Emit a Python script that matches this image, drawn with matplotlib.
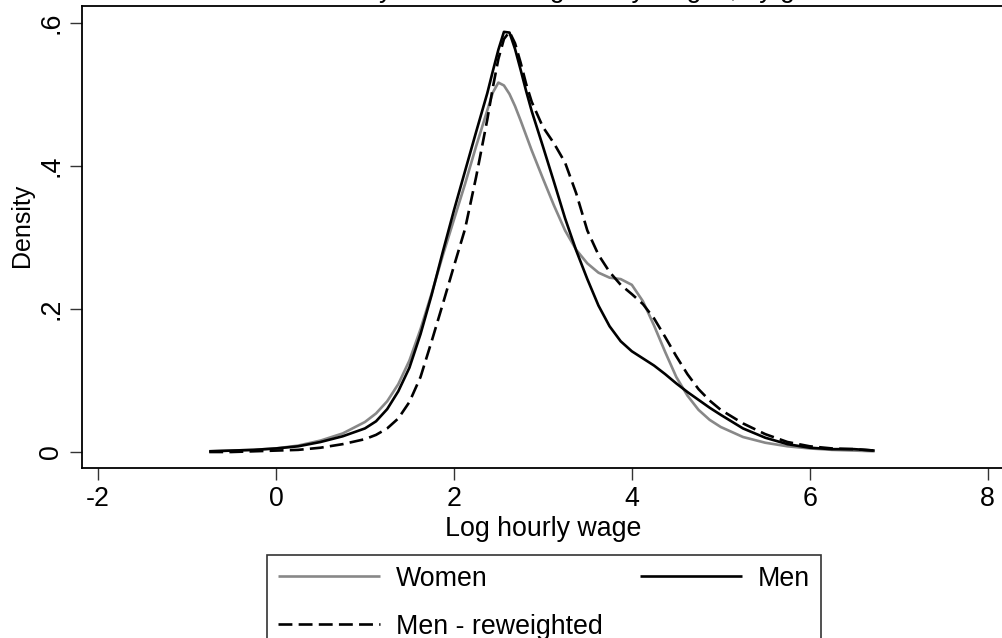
import matplotlib
matplotlib.use("Agg")
import matplotlib.pyplot as plt

plt.rcParams['font.family'] = ['Liberation Sans', 'DejaVu Sans']
plt.rcParams['lines.scale_dashes'] = False

# ---- data ----
log_wage = [-0.75, -0.5, -0.25, 0.0, 0.25, 0.5, 0.75, 1.0, 1.125, 1.25, 1.375, 1.5,
            1.625, 1.75, 1.875, 2.0, 2.125, 2.25, 2.375, 2.4375, 2.5, 2.5625, 2.625,
            2.6875, 2.75, 2.8125, 2.875, 3.0, 3.125, 3.25, 3.375, 3.5, 3.625, 3.75,
            3.875, 4.0, 4.125, 4.25, 4.375, 4.5, 4.625, 4.75, 4.875, 5.0, 5.25, 5.5,
            5.75, 6.0, 6.25, 6.5, 6.73]

women = [0.001, 0.002, 0.003, 0.005, 0.009, 0.016, 0.026, 0.042, 0.054, 0.071, 0.095, 0.128,
         0.172, 0.222, 0.275, 0.325, 0.375, 0.428, 0.478, 0.503, 0.517, 0.513, 0.501,
         0.484, 0.464, 0.443, 0.422, 0.383, 0.345, 0.310, 0.283, 0.264, 0.251, 0.244,
         0.242, 0.234, 0.211, 0.177, 0.140, 0.105, 0.079, 0.059, 0.045, 0.035, 0.021, 0.013,
         0.008, 0.005, 0.003, 0.002, 0.001]

men = [0.001, 0.002, 0.003, 0.005, 0.008, 0.014, 0.022, 0.033, 0.043, 0.060, 0.085, 0.118,
       0.165, 0.220, 0.280, 0.338, 0.393, 0.448, 0.502, 0.533, 0.563, 0.588, 0.587,
       0.564, 0.535, 0.505, 0.477, 0.428, 0.378, 0.327, 0.282, 0.242, 0.205, 0.176,
       0.155, 0.141, 0.131, 0.121, 0.109, 0.096, 0.084, 0.073, 0.062, 0.052, 0.033, 0.020,
       0.011, 0.006, 0.004, 0.004, 0.002]

men_reweighted = [0.000, 0.000, 0.001, 0.002, 0.003, 0.006, 0.011, 0.018, 0.024, 0.033, 0.047, 0.070,
                  0.105, 0.155, 0.207, 0.260, 0.312, 0.385, 0.465, 0.510, 0.550, 0.578, 0.588,
                  0.572, 0.545, 0.515, 0.490, 0.455, 0.432, 0.405, 0.362, 0.310, 0.276, 0.252,
                  0.234, 0.221, 0.207, 0.187, 0.161, 0.134, 0.109, 0.088, 0.072, 0.059, 0.040, 0.025,
                  0.014, 0.008, 0.005, 0.004, 0.002]

x_ticks = [-2, 0, 2, 4, 6, 8]
x_ticklabels = ['-2', '0', '2', '4', '6', '8']
y_ticks = [0, 0.2, 0.4, 0.6]
y_ticklabels = ['0', '.2', '.4', '.6']
series_labels = ['Women', 'Men', 'Men - reweighted']
title_text = 'Kernel density estimates: log hourly wages, by gender'

# ---- figure ----
W, H = 1002, 638
fig = plt.figure(figsize=(W / 100, H / 100), dpi=100)
ax = fig.add_axes([81.7 / W, 1 - 468.3 / H, (1004 - 81.7) / W, (468.3 - 6) / H])

fs = 19.3
l_w, = ax.plot(log_wage, women, color='#888888', lw=1.9, solid_capstyle='butt',
               solid_joinstyle='round')
l_m, = ax.plot(log_wage, men, color='black', lw=1.9, solid_capstyle='butt',
               solid_joinstyle='round')
l_r, = ax.plot(log_wage, men_reweighted, color='black', lw=1.9)
l_r.set_dashes((10, 4.5))

ax.set_xlim(-2.184, 8.184)
ax.set_ylim(-0.0228, 0.6242)
ax.set_xticks(x_ticks, x_ticklabels)
ax.set_yticks(y_ticks, y_ticklabels)
ax.tick_params(axis='both', direction='out', length=8.5, width=1.0, color='#333333',
               labelsize=fs)
ax.tick_params(axis='x', pad=4)
ax.tick_params(axis='y', labelrotation=90, pad=4)
for lab in ax.get_yticklabels():
    lab.set_va('center')
for s in ax.spines.values():
    s.set_linewidth(1.3)
    s.set_color('black')

ax.set_xlabel('Log hourly wage', fontsize=fs, labelpad=3)
fig.text(21.7 / W, 1 - 225 / H, 'Density', rotation=90, fontsize=18,
         ha='center', va='center')

fig.text(543 / W, 1 + 3 / H, title_text, fontsize=fs, ha='center', va='baseline')

leg = fig.legend([l_w, l_r, l_m], [series_labels[0], series_labels[2], series_labels[1]],
                 ncol=2, loc='upper left', bbox_to_anchor=(267 / W, 1 - 555 / H),
                 borderaxespad=0, fontsize=fs, frameon=True, fancybox=False,
                 handlelength=3.8, handletextpad=0.6, columnspacing=1.4,
                 borderpad=0.4, labelspacing=0.82)
leg.get_frame().set_edgecolor('black')
leg.get_frame().set_linewidth(1.2)

fig.savefig('out.png', dpi=100)
